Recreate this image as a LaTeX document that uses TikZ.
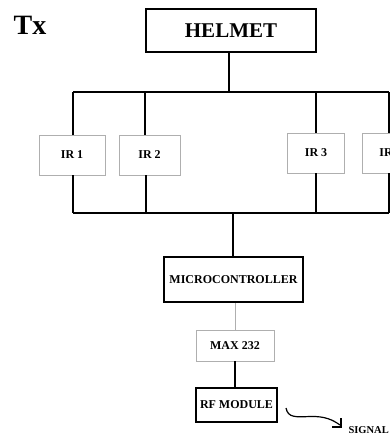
\documentclass[tikz,border=0pt]{standalone}
\usepackage{fontspec}
\setmainfont{Liberation Serif}
\usepackage{tikz}
\usetikzlibrary{calc}
\usetikzlibrary{positioning}

\definecolor{boxgray}{RGB}{175,175,175}
\tikzset{
	blackbox/.style={draw=black,line width=1.5pt,inner sep=0pt,font=\bfseries\fontsize{12}{14}\selectfont},
	graybox/.style={draw=boxgray,line width=0.9pt,inner sep=0pt,font=\bfseries\fontsize{12}{14}\selectfont},
	wire/.style={line width=1.6pt},
}

\begin{document}
\begin{tikzpicture}[x=1pt,y=-1pt]
	\useasboundingbox (0,0) rectangle (390,437);
	\clip (0,0) rectangle (390,437);
	\node[font=\bfseries\fontsize{28}{30}\selectfont] (tx) at (30,25) {Tx};
	\node[blackbox,minimum width=170,minimum height=43,font=\bfseries\fontsize{21}{24}\selectfont] (helmet) at (231,30.5) {HELMET};
	% the four sensors
	\node[graybox,minimum width=66,minimum height=40] (ir1) at (72,155) {IR 1};
	\node[graybox,minimum width=61,minimum height=40] (ir2) at (149.5,155) {IR 2};
	\node[graybox,minimum width=57,minimum height=40] (ir3) at (316,153) {IR 3};
	\node[graybox,minimum width=57,minimum height=40] (ir4) at (390.5,153) {IR 4};
	\node[blackbox,minimum width=139,minimum height=45] (micro) at (233.5,279.5) {MICROCONTROLLER};
	\node[graybox,minimum width=78,minimum height=31] (max) at (235,345.5) {MAX 232};
	\node[blackbox,minimum width=81,minimum height=34] (rf) at (236.5,405) {RF MODULE};
	\node[anchor=base west,font=\bfseries\fontsize{10.5}{12}\selectfont] (signal) at (345,433) {SIGNAL};
	% top bus and bottom bus
	\coordinate (topL) at (73,92);
	\coordinate (topR) at (389,92);
	\coordinate (botL) at (73,213);
	\coordinate (botR) at (389,213);
	\draw[wire] (topL) -- (topR);% top bus
	\draw[wire] (botL) -- (botR);% bottom bus
	\draw[wire] ([xshift=-2pt]helmet.south) -- ($(helmet.south |- topL)+(-2,0)$);
	\draw[wire] ([xshift=1pt]ir1.north) -- ($(ir1.north |- topL)+(1,0)$);
	\draw[wire] ([xshift=-4.5pt]ir2.north) -- ($(ir2.north |- topL)+(-4.5,0)$);
	\draw[wire] (ir3.north) -- (ir3.north |- topL);
	\draw[wire] ([xshift=-1.5pt]ir4.north) -- ($(ir4.north |- topL)+(-1.5,0)$);
	\draw[wire] ([xshift=1pt]ir1.south) -- ($(ir1.south |- botL)+(1,0)$);
	\draw[wire] ([xshift=-3.5pt]ir2.south) -- ($(ir2.south |- botL)+(-3.5,0)$);
	\draw[wire] (ir3.south) -- (ir3.south |- botL);
	\draw[wire] ([xshift=-1.5pt]ir4.south) -- ($(ir4.south |- botL)+(-1.5,0)$);
	\draw[wire] ([xshift=-0.5pt]micro.north) -- ($(micro.north |- botL)+(-0.5,0)$);
	\draw[draw=boxgray,line width=0.8pt] (micro.south -| max.north) -- (max.north);
	\draw[wire] (max.south) -- (max.south |- rf.north);
	% wavy line to the signal
	\coordinate (wavestart) at (286,408);
	\coordinate (sigtip) at (341,427);
	\draw[line width=1.2pt] (wavestart) .. controls (288,418) and (296,417) .. (310,416.5) .. controls (325,416) and (333,420) .. (340,425);
	\draw[line width=1.2pt] ([xshift=-9pt]sigtip) -- (sigtip) -- ([yshift=9pt]sigtip);
\end{tikzpicture}
\end{document}
